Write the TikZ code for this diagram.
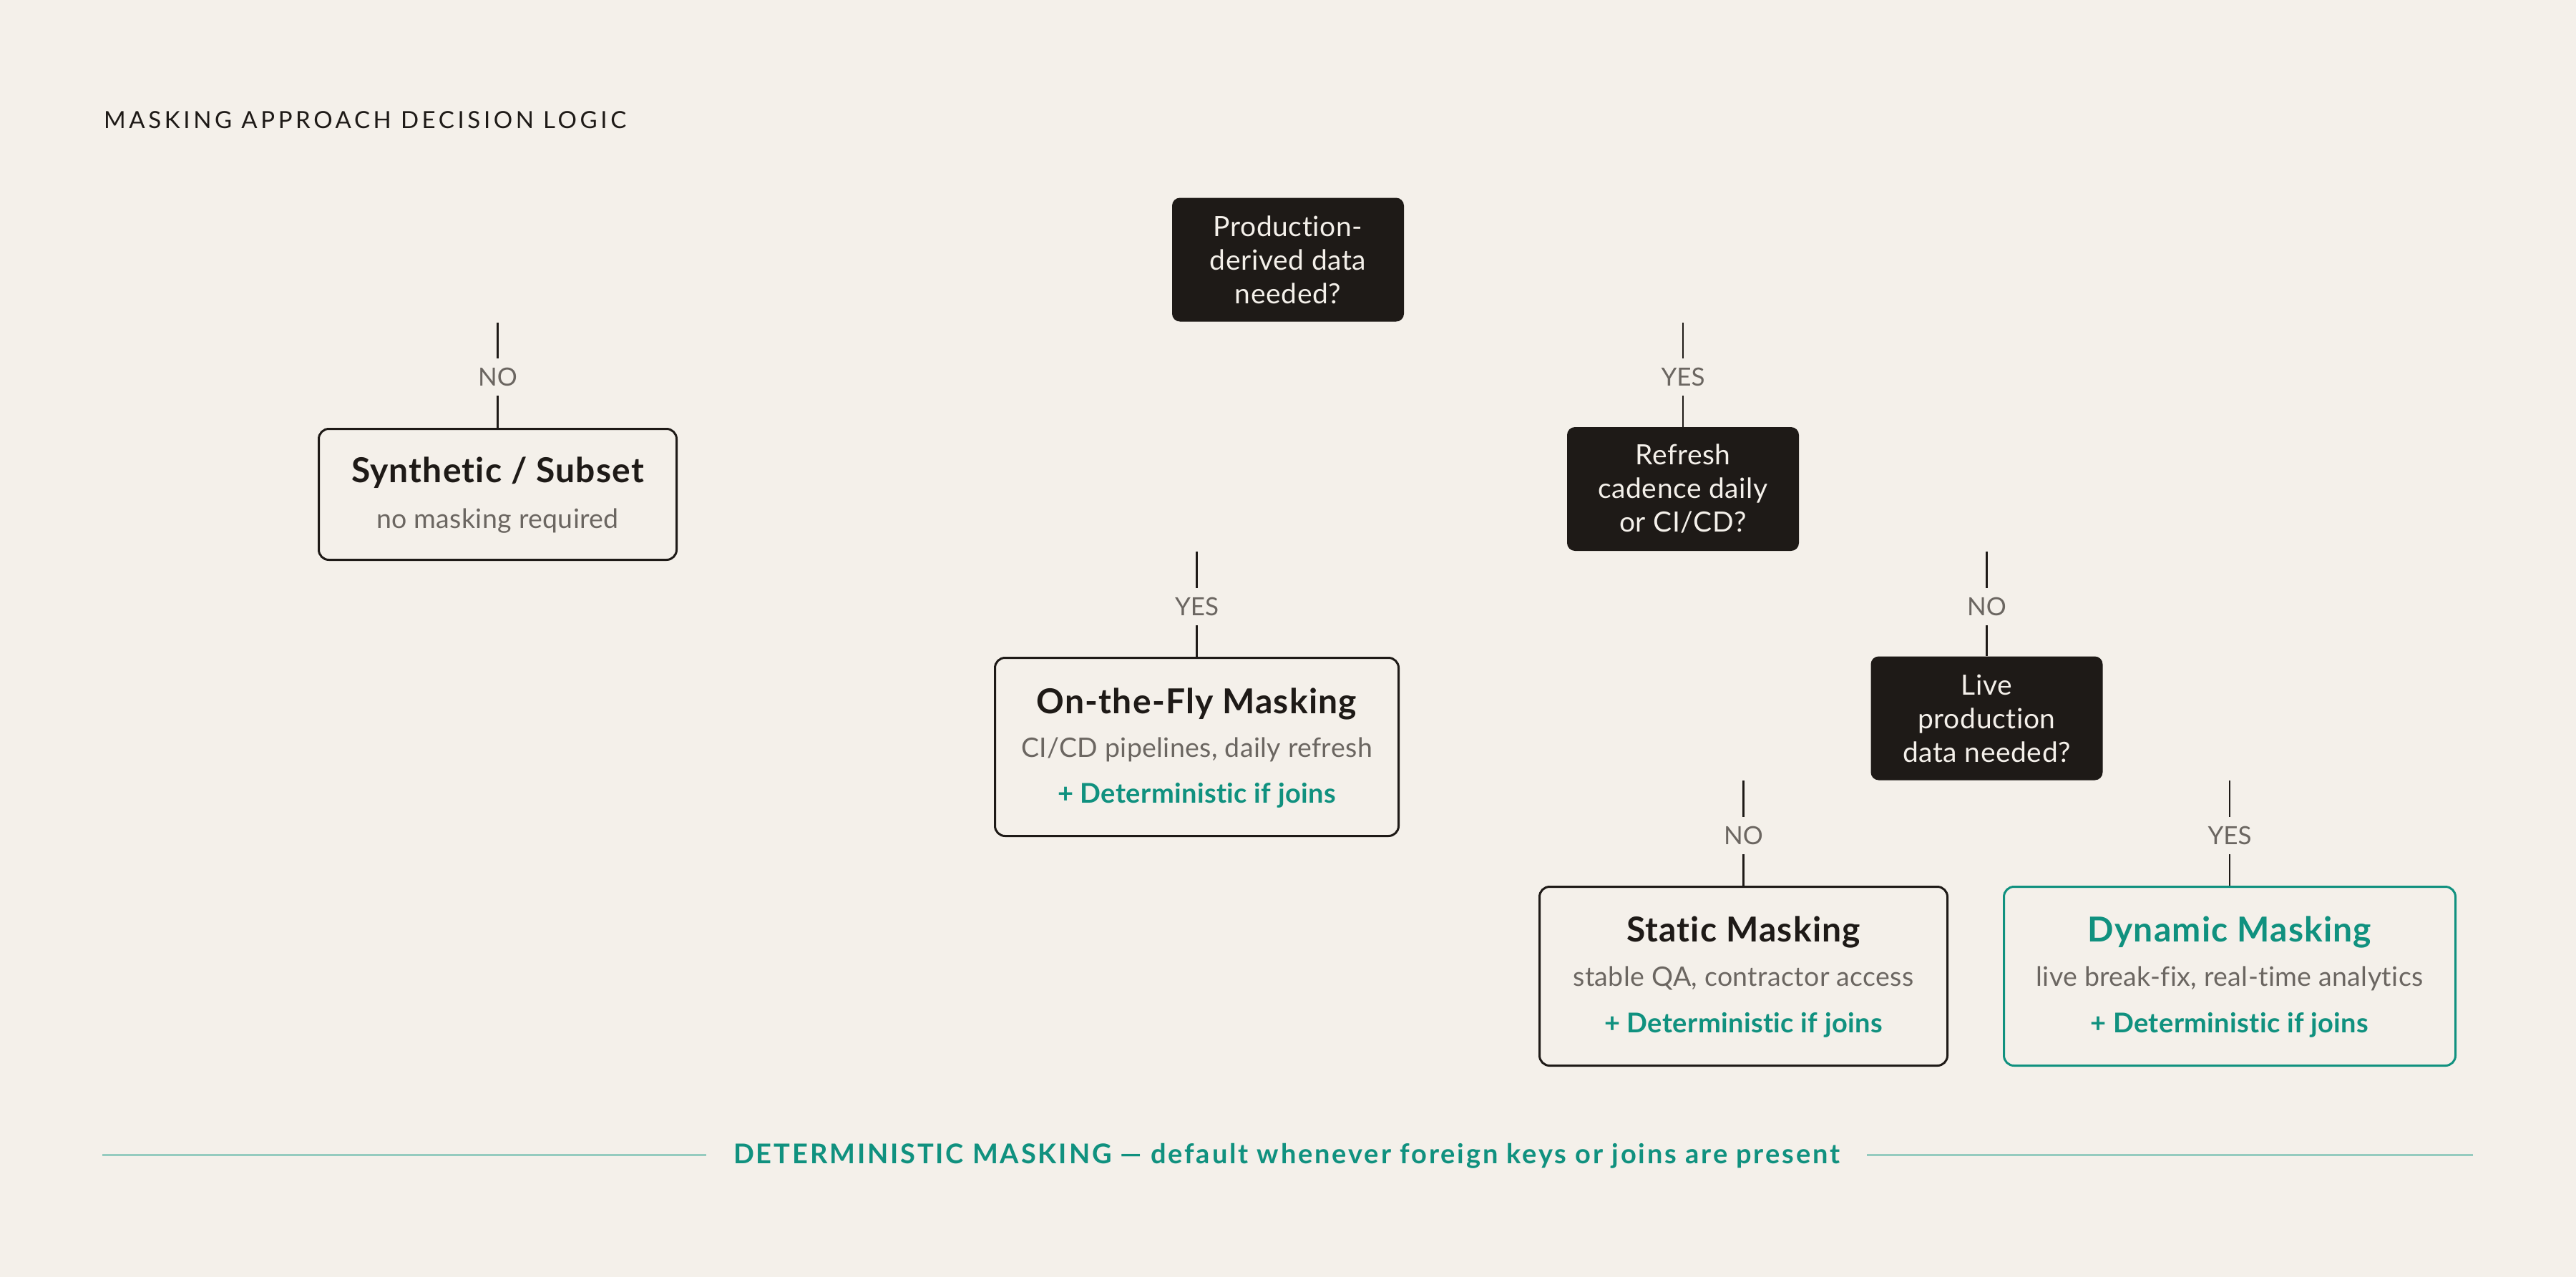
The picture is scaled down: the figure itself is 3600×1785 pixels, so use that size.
\documentclass[tikz,border=0pt]{standalone}
\usepackage{fontspec}
\setmainfont{Lato}[Ligatures=NoCommon]
\newfontfamily\headfont[LetterSpace=14,Ligatures=NoCommon]{Lato}
\newfontfamily\footfont[LetterSpace=7.5,Ligatures=NoCommon]{Lato}
\newfontfamily\ttlfont[LetterSpace=2.5,Ligatures=NoCommon]{Lato}
\newfontfamily\subfont[LetterSpace=1,Ligatures=NoCommon]{Lato}
\newfontfamily\qfont[LetterSpace=1.5,Ligatures=NoCommon]{Lato}
\definecolor{bgc}{HTML}{F4F0EA}
\definecolor{darkc}{HTML}{1E1A17}
\definecolor{tealc}{HTML}{10917F}
\definecolor{greyc}{HTML}{6B6661}
\definecolor{ltealc}{HTML}{95CBBF}
\begin{document}
\begin{tikzpicture}[x=1pt,y=-1pt,
  question/.style={fill=darkc, rounded corners=11pt, text=bgc, align=center,
    inner sep=0pt, minimum width=324pt, minimum height=173pt,
    font=\qfont\fontsize{39}{47}\selectfont},
  outcome/.style={draw=darkc, line width=3pt, rounded corners=14pt, inner sep=0pt},
  outteal/.style={outcome, draw=tealc},
  ttl/.style={anchor=base, inner sep=0pt, text=darkc, font=\ttlfont\fontsize{48}{56}\selectfont\bfseries},
  subt/.style={anchor=base, inner sep=0pt, text=greyc, font=\subfont\fontsize{37.5}{44}\selectfont},
  det/.style={anchor=base, inner sep=0pt, text=tealc, font=\subfont\fontsize{38}{44}\selectfont\bfseries},
  lbl/.style={inner sep=0pt, minimum height=52pt, text=greyc, font=\fontsize{35}{42}\selectfont},
  conn/.style={draw=darkc, line width=2.5pt}
]
\fill[bgc] (0,0) rectangle (3600,1785);
\useasboundingbox (0,0) rectangle (3600,1785);

% header
\node[anchor=base west, inner sep=0pt, text=darkc, font=\headfont\fontsize{33}{38}\selectfont] (hdr) at (145,179) {MASKING APPROACH DECISION LOGIC};

% questions
\node[question] (q1) at (1800,363) {Production-\\derived data\\needed?};
\node[question] (q2) at (2352,683.5) {Refresh\\cadence daily\\or CI/CD?};
\node[question] (q3) at (2776.5,1004) {Live\\production\\data needed?};

% outcomes
\node[outcome, minimum width=500pt, minimum height=183pt] (syn) at (695.5,691) {};
\node[ttl] (syn-t) at (695.5,674) {Synthetic / Subset};
\node[subt] (syn-s) at (695.5,738) {no masking required};

\node[outcome, minimum width=564pt, minimum height=249pt] (otf) at (1672.5,1044) {};
\node[ttl] (otf-t) at (1672.5,997) {On-the-Fly Masking};
\node[subt] (otf-s) at (1672.5,1058) {CI/CD pipelines, daily refresh};
\node[det] (otf-d) at (1672.5,1122) {+ Deterministic if joins};

\node[outcome, minimum width=570pt, minimum height=250pt] (sta) at (2436.5,1364.5) {};
\node[ttl] (sta-t) at (2436.5,1316) {Static Masking};
\node[subt] (sta-s) at (2436.5,1378) {stable QA, contractor access};
\node[det] (sta-d) at (2436.5,1443) {+ Deterministic if joins};

\node[outteal, minimum width=631pt, minimum height=250pt] (dyn) at (3116,1364.5) {};
\node[ttl, text=tealc] (dyn-t) at (3116,1316) {Dynamic Masking};
\node[subt] (dyn-s) at (3116,1378) {live break-fix, real-time analytics};
\node[det] (dyn-d) at (3116,1443) {+ Deterministic if joins};

% connectors
\coordinate (c1) at (695.5,451);
\node[lbl] (l1) at (695.5,527) {NO};
\draw[conn] (c1) -- (l1.north);
\draw[conn] (l1.south) -- (syn.north);

\coordinate (c2) at (2352,451);
\node[lbl] (l2) at (2352,527) {YES};
\draw[conn] (c2) -- (l2.north);
\draw[conn] (l2.south) -- (q2.north);

\coordinate (c3) at (1672.5,771);
\node[lbl] (l3) at (1672.5,848) {YES};
\draw[conn] (c3) -- (l3.north);
\draw[conn] (l3.south) -- (otf.north);

\coordinate (c4) at (2776.5,771);
\node[lbl] (l4) at (2776.5,848) {NO};
\draw[conn] (c4) -- (l4.north);
\draw[conn] (l4.south) -- (q3.north);

\coordinate (c5) at (2436.5,1091);
\node[lbl] (l5) at (2436.5,1168) {NO};
\draw[conn] (c5) -- (l5.north);
\draw[conn] (l5.south) -- (sta.north);

\coordinate (c6) at (3116,1091);
\node[lbl] (l6) at (3116,1168) {YES};
\draw[conn] (c6) -- (l6.north);
\draw[conn] (l6.south) -- (dyn.north);

% footer
\node[anchor=base, inner ysep=0pt, inner xsep=38pt, text=tealc, font=\footfont\fontsize{38}{44}\selectfont\bfseries] (foot) at (1798,1626) {DETERMINISTIC MASKING \textemdash{} default whenever foreign keys or joins are present};
\coordinate (fl) at (143,1614);
\coordinate (fr) at (3456,1614);
\draw[draw=ltealc, line width=3pt] (fl) -- (fl -| foot.west);
\draw[draw=ltealc, line width=3pt] (fr -| foot.east) -- (fr);
\end{tikzpicture}
\end{document}
